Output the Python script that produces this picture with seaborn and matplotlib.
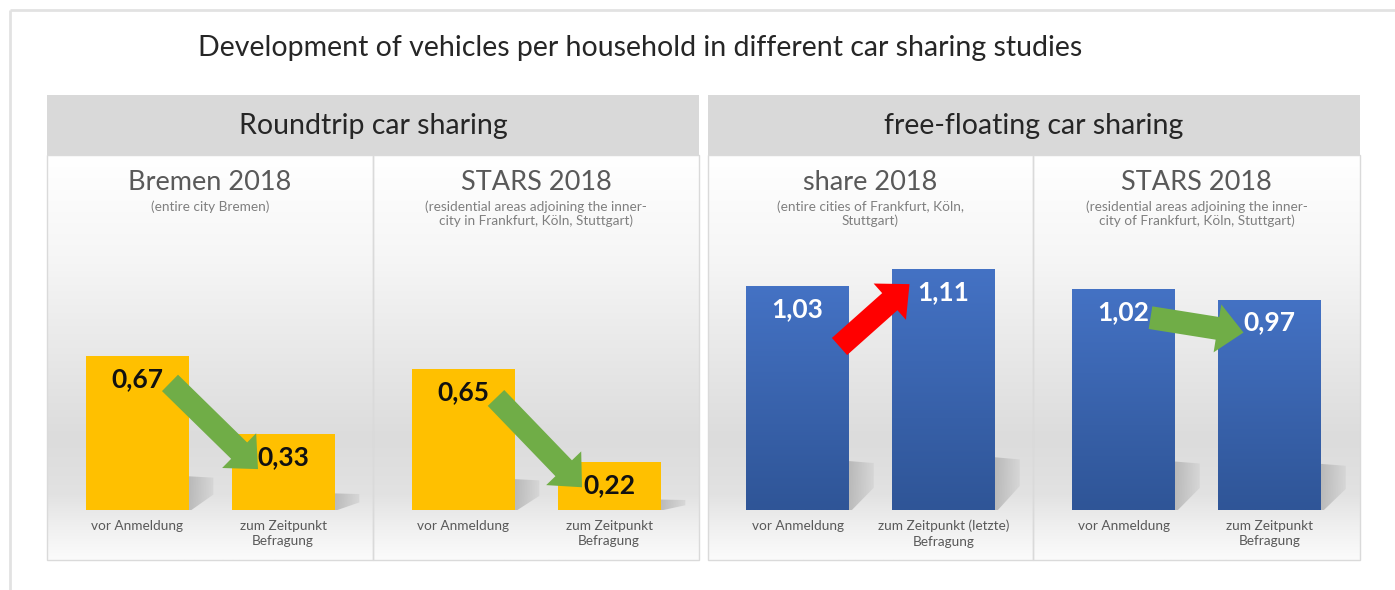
import numpy as np
import pandas as pd
import matplotlib
matplotlib.use("Agg")
import matplotlib.pyplot as plt
from matplotlib.colors import LinearSegmentedColormap
from matplotlib.transforms import offset_copy
from matplotlib.patches import Rectangle, Polygon
import seaborn as sns

# ---------------- data ----------------
title = "Development of vehicles per household in different car sharing studies"
groups = ["Roundtrip car sharing", "free-floating car sharing"]
studies = ["Bremen 2018", "STARS 2018", "share 2018", "STARS 2018"]
notes = [
    "(entire city Bremen)",
    "(residential areas adjoining the inner-\ncity in Frankfurt, Köln, Stuttgart)",
    "(entire cities of Frankfurt, Köln,\nStuttgart)",
    "(residential areas adjoining the inner-\ncity of Frankfurt, Köln, Stuttgart)",
]
before_labels = ["vor Anmeldung", "vor Anmeldung", "vor Anmeldung", "vor Anmeldung"]
after_labels = [
    "zum Zeitpunkt\nBefragung",
    "zum Zeitpunkt\nBefragung",
    "zum Zeitpunkt (letzte)\nBefragung",
    "zum Zeitpunkt\nBefragung",
]
before_values = [0.67, 0.65, 1.03, 1.02]
after_values = [0.33, 0.22, 1.11, 0.97]

# ---------------- style / layout ----------------
sns.set_theme(style="white")
plt.rcParams["font.family"] = ["Lato", "DejaVu Sans"]

W, H = 1395, 590
fig = plt.figure(figsize=(W / 100, H / 100), dpi=100)
fig.patch.set_facecolor("white")

bg = fig.add_axes([0, 0, 1, 1], zorder=0)
bg.set_xlim(0, W)
bg.set_ylim(H, 0)
bg.axis("off")

# outer frame lines
bg.plot([10, W], [10, 10], color="#e2e2e2", lw=2, solid_capstyle="butt")
bg.plot([10, 10], [10, H], color="#e2e2e2", lw=2, solid_capstyle="butt")

bg.text(640, 48, title, ha="center", va="center", fontsize=20.5, color="#262626")

group_x = [(47, 699), (708, 1360)]
sub_x = [(47, 373), (373, 699), (708, 1033), (1033, 1360)]
head_top, head_bot, body_bot = 95, 155, 560

for (x0, x1), g in zip(group_x, groups):
    bg.add_patch(Rectangle((x0, head_top), x1 - x0, head_bot - head_top,
                           facecolor="#d9d9d9", edgecolor="none"))
    bg.text((x0 + x1) / 2, 126, g, ha="center", va="center", fontsize=20.5, color="#262626")

# background gradient for bodies
stops = [(0.0, "#ffffff"), (0.25, "#f6f6f6"), (0.7, "#dcdcdc"), (0.84, "#e2e2e2"),
         (0.92, "#f0f0f0"), (1.0, "#fbfbfb")]
bg_cmap = LinearSegmentedColormap.from_list("bgc", stops)
grad = np.linspace(0, 1, 256).reshape(-1, 1)
for (x0, x1) in sub_x:
    bg.imshow(grad, cmap=bg_cmap, extent=[x0, x1, body_bot, head_bot], aspect="auto",
              origin="upper", zorder=0)
    bg.add_patch(Rectangle((x0, head_bot), x1 - x0, body_bot - head_bot,
                           facecolor="none", edgecolor="#dadada", lw=1, zorder=1))
bg.set_xlim(0, W)
bg.set_ylim(H, 0)

for (x0, x1), s, n in zip(sub_x, studies, notes):
    cx = (x0 + x1) / 2
    bg.text(cx, 183, s, ha="center", va="center", fontsize=19.5, color="#595959")
    bg.text(cx, 200, n, ha="center", va="top", fontsize=9.8, color="#7f7f7f",
            linespacing=1.2)

# bar axes
baseline_px, top_px = 510, 160
px_per_cat = 146
px_per_unit = [230, 217, 217, 217]
bar_colors = ["#FFC000", "#FFC000", "#4472C4", "#4472C4"]
label_colors = ["#111111", "#111111", "#ffffff", "#ffffff"]
arrow_colors = ["#70AD47", "#70AD47", "#FF0000", "#70AD47"]
# arrow tail / tip offsets in pixels relative to bar-top centres
arrow_offsets = [((33, -27), (-25, -35)), ((33, -29), (-27, -25)),
                 ((42, -60), (-34, -15)), ((27, -29), (-26, -33))]
blue_cmap = LinearSegmentedColormap.from_list("bl", ["#4472C4", "#2F5597"])
shadow_cmap = LinearSegmentedColormap.from_list("sh", ["#a8a8a8", "#d4d4d4"])

for i, (x0, x1) in enumerate(sub_x):
    ax = fig.add_axes([x0 / W, 1 - baseline_px / H, (x1 - x0) / W,
                       (baseline_px - top_px) / H], zorder=2)
    ax.patch.set_alpha(0)
    df = pd.DataFrame({"cat": [before_labels[i], after_labels[i]],
                       "val": [before_values[i], after_values[i]]})
    sns.barplot(data=df, x="cat", y="val", ax=ax, color=bar_colors[i],
                saturation=1, width=103 / px_per_cat, edgecolor="none", zorder=3)
    half = (x1 - x0) / px_per_cat / 2
    ymax = (baseline_px - top_px) / px_per_unit[i]

    # soft perspective shadows and blue gradients
    for p in list(ax.patches):
        bx, bw, bh = p.get_x(), p.get_width(), p.get_height()
        r = bx + bw
        sh = Polygon([(r - 0.02, 0), (r - 0.02, 0.22 * bh), (r + 0.17, 0.21 * bh),
                      (r + 0.17, 0.1 * bh), (r + 0.02, 0)],
                     closed=True, facecolor="none", edgecolor="none", zorder=2)
        ax.add_patch(sh)
        sim = ax.imshow(np.linspace(0, 1, 64).reshape(1, -1), cmap=shadow_cmap,
                        extent=[r - 0.02, r + 0.17, 0, 0.22 * bh], origin="upper",
                        aspect="auto", alpha=0.75, zorder=2)
        sim.set_clip_path(sh)
        if bar_colors[i] == "#4472C4":
            im = ax.imshow(np.linspace(0, 1, 128).reshape(-1, 1), cmap=blue_cmap,
                           extent=[bx, r, 0, bh], origin="upper", aspect="auto", zorder=3.5)
            im.set_clip_path(p)

    vals = [before_values[i], after_values[i]]
    for j, v in enumerate(vals):
        ax.annotate(f"{v:.2f}".replace(".", ","), xy=(j, v), xytext=(0, -23 * 0.72),
                    textcoords="offset points", ha="center", va="center",
                    fontsize=19, fontweight="bold", color=label_colors[i], zorder=6)

    (tdx, tdy), (hdx, hdy) = arrow_offsets[i]
    ax.annotate("", xy=(1, vals[1]),
                xycoords=offset_copy(ax.transData, fig=fig, x=hdx, y=hdy, units="dots"),
                xytext=(0, vals[0]),
                textcoords=offset_copy(ax.transData, fig=fig, x=tdx, y=tdy, units="dots"),
                arrowprops=dict(arrowstyle="simple,head_length=19,head_width=35,tail_width=16.5",
                                mutation_scale=1, fc=arrow_colors[i], ec="none",
                                shrinkA=0, shrinkB=0),
                zorder=5)

    ax.set_xlim(0.5 - half, 0.5 + half)
    ax.set_ylim(0, ymax)
    ax.set_xlabel("")
    ax.set_ylabel("")
    ax.set_yticks([])
    for sp in ax.spines.values():
        sp.set_visible(False)
    ax.tick_params(axis="x", length=0, pad=7, labelsize=9.8, labelcolor="#595959")
    for t in ax.get_xticklabels():
        t.set_linespacing(1.35)

fig.savefig("out.png", dpi=100, facecolor="white")
